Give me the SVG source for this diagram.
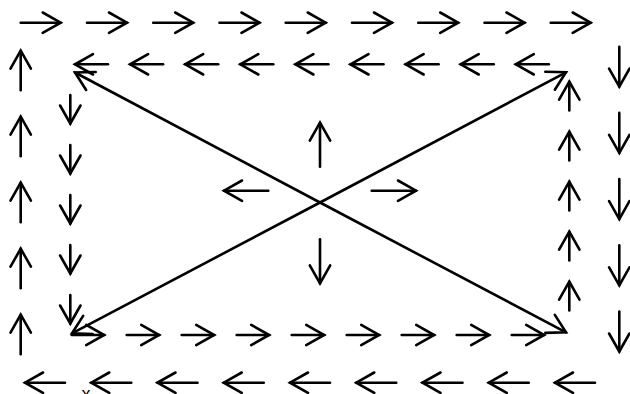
<svg xmlns="http://www.w3.org/2000/svg" width="630" height="394" viewBox="0 0 630 394">
<style>
.a{stroke:#000;stroke-width:2.6;fill:none;stroke-linecap:round;marker-end:url(#h)}
.t{font-family:"Liberation Sans",Arial,sans-serif;font-size:18px;fill:#000}
</style>
<defs>
<marker id="h" markerUnits="userSpaceOnUse" viewBox="-22 -13 25 26" markerWidth="25" markerHeight="26" refX="0" refY="0" orient="auto">
<path d="M-18,-10.2 L0,0 L-18,10.2" fill="none" stroke="#000" stroke-width="2.6" stroke-linecap="round" stroke-linejoin="miter"/>
</marker>
</defs>
<rect width="630" height="394" fill="#fff"/>
<g id="connectors">
<g id="top-row">
<line class="a" x1="20.7" y1="22.7" x2="60.7" y2="22.7"/>
<line class="a" x1="87" y1="22.7" x2="127" y2="22.7"/>
<line class="a" x1="153.2" y1="22.7" x2="193.2" y2="22.7"/>
<line class="a" x1="219.5" y1="22.7" x2="259.5" y2="22.7"/>
<line class="a" x1="285.7" y1="22.7" x2="325.7" y2="22.7"/>
<line class="a" x1="352" y1="22.7" x2="392" y2="22.7"/>
<line class="a" x1="418.2" y1="22.7" x2="458.2" y2="22.7"/>
<line class="a" x1="484.5" y1="22.7" x2="524.5" y2="22.7"/>
<line class="a" x1="550.7" y1="22.7" x2="590.7" y2="22.7"/>
</g>
<g id="inner-top-row">
<line class="a" x1="108" y1="64.3" x2="75" y2="64.3"/>
<line class="a" x1="163.1" y1="64.3" x2="130.1" y2="64.3"/>
<line class="a" x1="218.2" y1="64.3" x2="185.2" y2="64.3"/>
<line class="a" x1="273.3" y1="64.3" x2="240.3" y2="64.3"/>
<line class="a" x1="328.4" y1="64.3" x2="295.4" y2="64.3"/>
<line class="a" x1="383.5" y1="64.3" x2="350.5" y2="64.3"/>
<line class="a" x1="438.6" y1="64.3" x2="405.6" y2="64.3"/>
<line class="a" x1="493.7" y1="64.3" x2="460.7" y2="64.3"/>
<line class="a" x1="548.8" y1="64.3" x2="515.8" y2="64.3"/>
</g>
<g id="left-column">
<line class="a" x1="20.7" y1="90.2" x2="20.7" y2="50.7"/>
<line class="a" x1="20.7" y1="156.2" x2="20.7" y2="116.7"/>
<line class="a" x1="20.7" y1="222.2" x2="20.7" y2="182.7"/>
<line class="a" x1="20.7" y1="288.2" x2="20.7" y2="248.7"/>
<line class="a" x1="20.7" y1="354.2" x2="20.7" y2="314.7"/>
</g>
<g id="right-column">
<line class="a" x1="619.3" y1="46.7" x2="619.3" y2="86.7"/>
<line class="a" x1="619.3" y1="112.9" x2="619.3" y2="152.9"/>
<line class="a" x1="619.3" y1="179.1" x2="619.3" y2="219.1"/>
<line class="a" x1="619.3" y1="245.3" x2="619.3" y2="285.3"/>
<line class="a" x1="619.3" y1="311.5" x2="619.3" y2="351.5"/>
</g>
<g id="bottom-row">
<line class="a" x1="65" y1="382.7" x2="25" y2="382.7"/>
<line class="a" x1="131.25" y1="382.7" x2="91.25" y2="382.7"/>
<line class="a" x1="197.5" y1="382.7" x2="157.5" y2="382.7"/>
<line class="a" x1="263.75" y1="382.7" x2="223.75" y2="382.7"/>
<line class="a" x1="330" y1="382.7" x2="290" y2="382.7"/>
<line class="a" x1="396.25" y1="382.7" x2="356.25" y2="382.7"/>
<line class="a" x1="462.5" y1="382.7" x2="422.5" y2="382.7"/>
<line class="a" x1="528.75" y1="382.7" x2="488.75" y2="382.7"/>
<line class="a" x1="595" y1="382.7" x2="555" y2="382.7"/>
</g>
<g id="inner-bottom-row">
<line class="a" x1="71.7" y1="335" x2="104.2" y2="335"/>
<line class="a" x1="126.7" y1="335" x2="159.2" y2="335"/>
<line class="a" x1="181.7" y1="335" x2="214.2" y2="335"/>
<line class="a" x1="236.7" y1="335" x2="269.2" y2="335"/>
<line class="a" x1="291.7" y1="335" x2="324.2" y2="335"/>
<line class="a" x1="346.7" y1="335" x2="379.2" y2="335"/>
<line class="a" x1="401.7" y1="335" x2="434.2" y2="335"/>
<line class="a" x1="456.7" y1="335" x2="489.2" y2="335"/>
<line class="a" x1="511.7" y1="335" x2="544.2" y2="335"/>
</g>
<g id="inner-left-column">
<line class="a" x1="70.3" y1="95" x2="70.3" y2="123.5"/>
<line class="a" x1="70.3" y1="145" x2="70.3" y2="173.5"/>
<line class="a" x1="70.3" y1="195" x2="70.3" y2="223.5"/>
<line class="a" x1="70.3" y1="245" x2="70.3" y2="273.5"/>
<line class="a" x1="70.3" y1="295" x2="70.3" y2="323.5"/>
</g>
<g id="inner-right-column">
<line class="a" x1="569.3" y1="110.4" x2="569.3" y2="81.7"/>
<line class="a" x1="569.3" y1="160.4" x2="569.3" y2="131.7"/>
<line class="a" x1="569.3" y1="210.4" x2="569.3" y2="181.7"/>
<line class="a" x1="569.3" y1="260.4" x2="569.3" y2="231.7"/>
<line class="a" x1="569.3" y1="310.4" x2="569.3" y2="281.7"/>
</g>
<g id="diagonals">
<line class="a" x1="320" y1="202.5" x2="75" y2="72.5"/>
<line class="a" x1="320" y1="202.5" x2="566" y2="72.3"/>
<line class="a" x1="320" y1="202.5" x2="566" y2="332.3"/>
<line class="a" x1="320" y1="202.5" x2="72" y2="333.3"/>
</g>
<g id="center-arrows">
<line class="a" x1="320" y1="166.7" x2="320" y2="122.7"/>
<line class="a" x1="320" y1="239.3" x2="320" y2="283.3"/>
<line class="a" x1="268.3" y1="190.7" x2="224" y2="190.7"/>
<line class="a" x1="371.7" y1="190.7" x2="416" y2="190.7"/>
</g>
</g>
<text class="t" x="86" y="399.5" text-anchor="middle">x</text>
</svg>
